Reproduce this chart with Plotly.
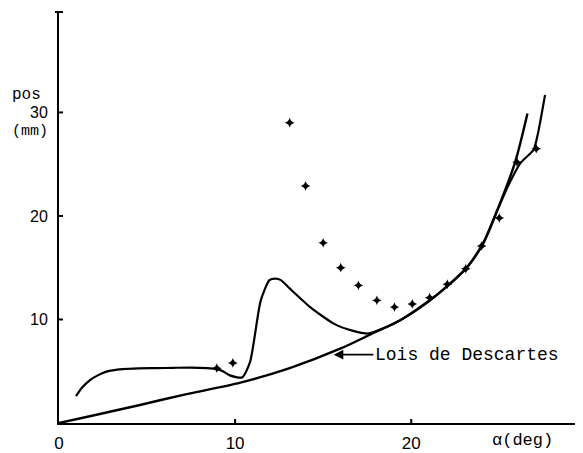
import plotly.graph_objects as go

# ---- data ----
descartes_x = [0, 2.0, 4.6, 7.0, 10.3, 13.1, 16.0, 17.8, 19.4, 21.25, 23.2, 24.1, 24.9, 25.9, 26.6]
descartes_y = [0, 0.75, 1.74, 2.7, 3.9, 5.3, 7.2, 8.65, 9.95, 12.1, 15.1, 17.4, 20.6, 25.2, 29.9]

theory_x = [0.97, 1.3, 1.76, 2.2, 2.7, 3.6, 4.5, 5.55, 6.5, 7.44, 8.4, 8.96, 9.3, 9.7, 10.4,
            10.85, 11.45, 11.95, 12.3, 12.6, 13.1, 14.26, 15.6, 16.7, 17.6, 18.5, 19.4, 21.25,
            23.2, 24.1, 24.9, 25.5, 26.2, 26.95, 27.2, 27.6]
theory_y = [2.6, 3.4, 4.15, 4.6, 4.96, 5.2, 5.28, 5.3, 5.33, 5.35, 5.3, 5.2, 5.0, 4.6, 4.4,
            5.9, 11.8, 13.8, 13.95, 13.8, 13.0, 11.2, 9.6, 8.9, 8.65, 9.2, 9.95, 12.1,
            15.1, 17.4, 20.6, 22.9, 25.1, 26.4, 28.0, 31.7]

meas_x = [8.96, 9.87, 13.1, 14.0, 15.0, 16.0, 17.0, 18.05, 19.05, 20.06, 21.05, 22.05, 23.1, 24.0, 25.0, 26.0, 27.1]
meas_y = [5.3, 5.8, 29.0, 22.9, 17.4, 15.0, 13.3, 11.85, 11.2, 11.5, 12.1, 13.4, 14.9, 17.1, 19.8, 25.2, 26.5]

x_ticks = [0, 10, 20]
y_ticks = [10, 20, 30]

fig = go.Figure()
fig.add_trace(go.Scatter(x=descartes_x, y=descartes_y, mode="lines",
                         line=dict(color="black", width=2.4, shape="spline", smoothing=0.8),
                         showlegend=False, hoverinfo="skip"))
fig.add_trace(go.Scatter(x=theory_x, y=theory_y, mode="lines",
                         line=dict(color="black", width=2.2, shape="spline", smoothing=0.6),
                         showlegend=False, hoverinfo="skip"))
fig.add_trace(go.Scatter(x=meas_x, y=meas_y, mode="markers",
                         marker=dict(symbol="star-diamond", size=7, color="black"),
                         showlegend=False))

mono = "Liberation Mono"
sans = "Liberation Sans"

# crossing tick marks
shapes = []
for t in x_ticks[1:]:
    shapes.append(dict(type="line", xref="x", yref="y", x0=t, x1=t, ysizemode="pixel",
                       yanchor=0, y0=-4, y1=4, line=dict(color="black", width=2)))
for t in y_ticks:
    shapes.append(dict(type="line", xref="x", yref="y", y0=t, y1=t, xsizemode="pixel",
                       xanchor=0, x0=-4, x1=4, line=dict(color="black", width=2)))
shapes.append(dict(type="line", xref="paper", yref="paper", y0=1, y1=1, xsizemode="pixel",
                   xanchor=0, x0=-4, x1=4, line=dict(color="black", width=2)))
fig.update_layout(shapes=shapes)

fig.update_layout(
    width=583, height=453,
    margin=dict(l=59, r=8, t=12, b=30, autoexpand=False),
    paper_bgcolor="white", plot_bgcolor="white",
    xaxis=dict(range=[0, 29.3], tickvals=x_ticks, ticktext=[str(v) for v in x_ticks],
               showgrid=False, zeroline=False, showline=True, linecolor="black", linewidth=2,
               ticks="", ticklabelstandoff=4, automargin=False,
               tickfont=dict(family=sans, size=17, color="black")),
    yaxis=dict(range=[0, 39.7], tickvals=y_ticks, ticktext=[str(v) for v in y_ticks],
               showgrid=False, zeroline=False, showline=True, linecolor="black", linewidth=2,
               ticks="", ticklabelstandoff=6, automargin=False,
               tickfont=dict(family=sans, size=16, color="black")),
    annotations=[
        dict(text="pos", xref="paper", yref="paper", x=(10 - 59) / 516, y=(423 - 95) / 411,
             xanchor="left", yanchor="middle", showarrow=False,
             font=dict(family=mono, size=16, color="black")),
        dict(text="(mm)", xref="paper", yref="paper", x=(10 - 59) / 516, y=(423 - 131) / 411,
             xanchor="left", yanchor="middle", showarrow=False,
             font=dict(family=mono, size=15, color="black")),
        dict(text="α(deg)", xref="paper", yref="paper", x=(490 - 59) / 516, y=(423 - 440) / 411,
             xanchor="left", yanchor="middle", showarrow=False,
             font=dict(family=mono, size=17, color="black")),
        dict(text="Lois de Descartes", xref="x", yref="y", x=15.6, y=6.6,
             axref="x", ayref="y", ax=17.85, ay=6.6, xanchor="left", yanchor="middle",
             showarrow=True, arrowhead=2, arrowsize=1.2, arrowwidth=1.6, arrowcolor="black",
             font=dict(family=mono, size=18, color="black")),
    ],
)

fig.write_html("out.html", config={"displayModeBar": False},
               post_script="document.body.style.margin='0';document.body.style.overflow='hidden';")
